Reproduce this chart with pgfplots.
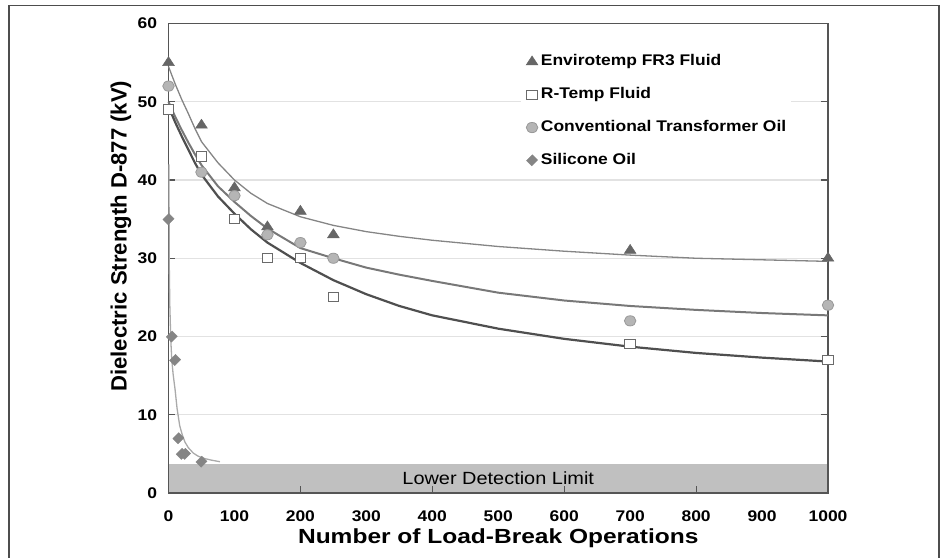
\documentclass[border=0pt]{standalone}
\usepackage{fontspec}
\setmainfont{Liberation Sans}
\newfontfamily\wide{Liberation Sans}[FakeStretch=1.13]
\newfontfamily\xwide{Liberation Sans}[FakeStretch=1.2]
\usepackage{pgfplots}
\pgfplotsset{compat=1.18}

\definecolor{framec}{HTML}{4D4D4D}
\definecolor{axisc}{HTML}{555555}
\definecolor{gridc}{HTML}{E2E2E2}
\definecolor{bandc}{HTML}{C0C0C0}
\definecolor{frmark}{HTML}{666666}
\definecolor{frline}{HTML}{858585}
\definecolor{rtline}{HTML}{4F4F4F}
\definecolor{rtmark}{HTML}{6A6A6A}
\definecolor{cvfill}{HTML}{B5B5B5}
\definecolor{cvdraw}{HTML}{999999}
\definecolor{cvline}{HTML}{787878}
\definecolor{simark}{HTML}{858585}
\definecolor{siline}{HTML}{AAAAAA}

\newcommand{\tickfont}{\wide\fontsize{15.5}{18}\selectfont\bfseries}
\newcommand{\xlabfont}{\xwide\fontsize{20.5}{24}\selectfont\bfseries}
\newcommand{\ylabfont}{\fontsize{22.2}{25}\selectfont\bfseries}
\newcommand{\legfont}{\wide\fontsize{15.5}{18}\selectfont\bfseries}
\newcommand{\bandfont}{\wide\fontsize{17.7}{21}\selectfont}

\pgfplotsset{markleg/.style={legend image code/.code={\draw[##1] plot coordinates {(0bp,0bp)};}}}

\begin{document}
\begin{tikzpicture}
\begin{axis}[
    set layers,
    scale only axis,
    width=659.5bp, height=469.5bp,
    xmin=0, xmax=1000, ymin=0, ymax=60,
    clip=false,
    axis line style={draw=axisc, line width=1.3bp},
    tick style={draw=axisc, line width=1.2bp},
    tick align=inside,
    major tick length=7bp,
    xtick={0,200,...,1000},
    extra x ticks={100,300,500,700,900},
    extra x tick style={major tick length=0pt},
    ytick={0,10,...,60},
    xtick pos=left, ytick pos=both,
    ymajorgrids,
    major grid style={draw=gridc, line width=1.2bp},
    ticklabel style={font=\tickfont},
    /pgf/number format/assume math mode=true,
    /pgf/number format/1000 sep={},
    xticklabel style={yshift=-14.5bp},
    yticklabel style={xshift=-8bp},
    xlabel={Number of Load-Break Operations},
    ylabel={Dielectric Strength D-877 (kV)},
    xlabel style={at={(rel axis cs:0.5,-0.0955)}, anchor=center, font=\xlabfont},
    ylabel style={at={(rel axis cs:-0.072,0.547)}, anchor=center, font=\ylabfont},
    legend style={at={(axis cs:534.5,56.9)}, anchor=north west, draw=none, fill=white,
        inner xsep=5bp, inner ysep=6bp, row sep=16.8bp, column sep=3bp, font=\legfont,
        nodes={inner sep=0pt, text height=12bp, text depth=4bp},
        cells={anchor=west}},
]

% detection limit band
\addplot[on layer=axis background, draw=none, fill=bandc, forget plot]
    coordinates {(0,3.7) (1000,3.7)} \closedcycle;
\node[font=\bandfont] at (axis cs:500,1.95) {Lower Detection Limit};

% measured points
\addplot[only marks, mark=triangle*, mark size=6bp,
    mark options={xscale=1.13, fill=frmark, draw=frmark, line width=0.5bp}, markleg]
    coordinates {(0,55) (50,47) (100,39) (150,34) (200,36) (250,33) (700,31) (1000,30)};
\addlegendentry{Envirotemp FR3 Fluid}

\addplot[only marks, mark=square*, mark size=4.6bp,
    mark options={xscale=1.13, fill=white, draw=rtmark, line width=1bp}, markleg]
    coordinates {(0,49) (50,43) (100,35) (150,30) (200,30) (250,25) (700,19) (1000,17)};
\addlegendentry{R-Temp Fluid}

\addplot[only marks, mark=*, mark size=5.1bp,
    mark options={xscale=1.13, fill=cvfill, draw=cvdraw, line width=0.8bp}, markleg]
    coordinates {(0,52) (50,41) (100,38) (150,33) (200,32) (250,30) (700,22) (1000,24)};
\addlegendentry{Conventional Transformer Oil}

\addplot[only marks, mark=square*, mark size=3.7bp,
    mark options={rotate=45, xscale=1.13, fill=simark, draw=simark, line width=0.4bp}, markleg]
    coordinates {(0,35) (5,20) (10,17) (15,7) (20,5) (25,5) (50,4)};
\addlegendentry{Silicone Oil}

% trend lines
\addplot[forget plot, no marks, draw=frline, line width=1.3bp, line join=round]
    coordinates {(0,54.5) (10,52.3) (20,50.3) (30,48.5) (40,46.6) (50,44.9) (75,42.2)
    (100,40.0) (125,38.3) (150,37.0) (200,35.3) (250,34.2) (300,33.4) (350,32.8)
    (400,32.3) (500,31.5) (600,30.9) (700,30.4) (800,30.0) (900,29.8) (1000,29.6)};

\addplot[forget plot, no marks, draw=cvline, line width=2bp, line join=round]
    coordinates {(0,50.0) (10,48.1) (20,46.4) (30,44.8) (40,43.3) (50,41.9) (75,39.2)
    (100,37.2) (125,35.4) (150,33.8) (200,31.3) (250,30.0) (300,28.8) (350,27.9)
    (400,27.1) (500,25.6) (600,24.6) (700,23.9) (800,23.4) (900,23.0) (1000,22.7)};

\addplot[forget plot, no marks, draw=rtline, line width=2.2bp, line join=round]
    coordinates {(0,49.4) (10,47.4) (20,45.6) (30,43.9) (40,42.2) (50,40.7) (75,37.9)
    (100,35.7) (125,33.7) (150,32.0) (200,29.4) (250,27.2) (300,25.4) (350,23.9)
    (400,22.7) (500,21.0) (600,19.7) (700,18.7) (800,17.9) (900,17.3) (1000,16.8)};

\addplot[forget plot, no marks, draw=siline, line width=1.3bp, line join=round]
    coordinates {(0.7,42) (1.2,29) (2,24) (3.5,19.5) (5,17) (7,15.2) (10,13.2) (13,10.8)
    (17,8.6) (21,7.4) (25,6.5) (30,5.8) (37.6,5.1) (45,4.7) (55,4.4) (65,4.2) (78,4.0)};

\end{axis}
\draw[draw=framec, line width=1.6bp]
    ([shift={(-159.5bp,-70bp)}]current axis.south west) -- ++(0,557.5bp) -- ++(930bp,0) -- ++(0,-557.5bp);
\pgfresetboundingbox
\path ([shift={(-168.5bp,-65bp)}]current axis.south west) rectangle ++(940bp,558bp);
\end{tikzpicture}
\end{document}
